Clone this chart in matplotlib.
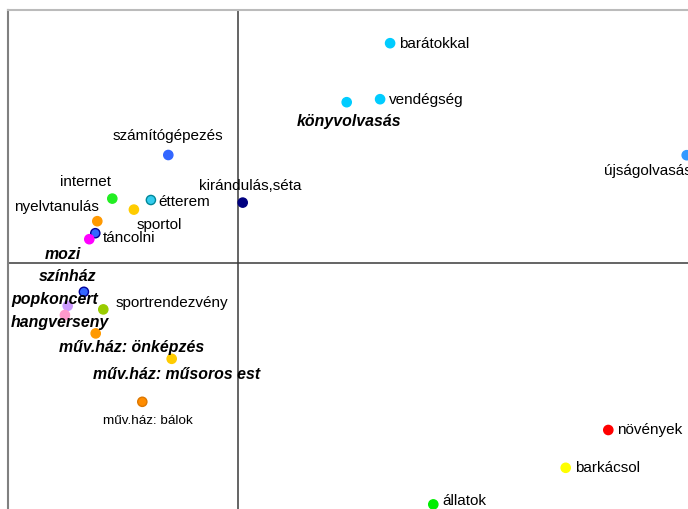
import matplotlib.pyplot as plt

plt.rcParams['font.family'] = ['Liberation Sans', 'DejaVu Sans']

# map coordinates of the activities
labels = ["számítógépezés", "internet", "étterem", "sportol", "nyelvtanulás",
          "táncolni", "mozi", "kirándulás,séta", "barátokkal", "vendégség",
          "könyvolvasás", "újságolvasás", "színház", "popkoncert",
          "sportrendezvény", "hangverseny", "műv.ház: önképzés",
          "műv.ház: műsoros est", "műv.ház: bálok", "növények", "barkácsol",
          "állatok"]
x_vals = [-0.347, -0.627, -0.434, -0.519, -0.702, -0.712, -0.742, 0.025,
          0.762, 0.712, 0.545, 2.245, -0.769, -0.850, -0.672, -0.864,
          -0.710, -0.330, -0.477, 1.853, 1.640, 0.978]
y_vals = [0.540, 0.322, 0.315, 0.267, 0.209, 0.149, 0.119, 0.302,
          1.099, 0.819, 0.804, 0.539, -0.144, -0.214, -0.232, -0.260,
          -0.352, -0.479, -0.694, -0.835, -1.024, -1.207]
emphasised = ["mozi", "könyvolvasás", "színház", "popkoncert", "hangverseny",
              "műv.ház: önképzés", "műv.ház: műsoros est"]

colors = ["#3366ff", "#22ee22", "#33ccee", "#ffcc00", "#ff9900",
          "#3366ff", "#ff00ff", "#000080", "#00ccff", "#00ccff",
          "#00ccff", "#3399ff", "#3366ff", "#cc99ff", "#99cc00",
          "#ff99cc", "#ff9900", "#ffcc00", "#ff8c00", "#ff0000",
          "#ffff00", "#00ee00"]
edges = ["#3366ff", "#22ee22", "#008899", "#ffcc00", "#ff9900",
         "#000099", "#ff00ff", "#000080", "#00ccff", "#00ccff",
         "#00ccff", "#3399ff", "#000099", "#cc99ff", "#99cc00",
         "#ff99cc", "#ff9900", "#ffcc00", "#dd7700", "#ff0000",
         "#ffff00", "#00ee00"]

# label placement: (dx px, dy px, ha)
offsets = [(0, 19, "center"), (-27, 17, "center"), (7, -2, "left"),
           (3, -15, "left"), (2, 14, "right"), (8, -5, "left"),
           (-8, -15, "right"), (8, 17, "center"), (9, -1, "left"),
           (9, -1, "left"), (2, -19, "center"), (-83, -16, "left"),
           (-16, 15, "center"), (-13, 6, "center"), (12, 6, "left"),
           (-5, -7, "center"), (36, -14, "center"), (5, -16, "center"),
           (6, -19, "center"), (9, 0, "left"), (9, 0, "left"),
           (9, 3, "left")]

fig = plt.figure(figsize=(6.88, 5.09), dpi=100)
ax = fig.add_axes([8 / 688, -11 / 509, 712 / 688, 510 / 509])
ax.set_xlim(-1.1485, 2.4115)
ax.set_ylim(-1.285, 1.265)

ax.axhline(0, color="#3a3a3a", lw=1.1, zorder=1)
ax.axvline(0, color="#3a3a3a", lw=1.1, zorder=1)

ax.scatter(x_vals, y_vals, s=44, c=colors, edgecolors=edges, linewidths=1,
           zorder=3)

for lab, x, y, (dx, dy, ha) in zip(labels, x_vals, y_vals, offsets):
    if lab in emphasised:
        kw = dict(fontsize=11.4, fontweight="bold", fontstyle="italic")
    elif lab == "műv.ház: bálok":
        kw = dict(fontsize=9.7)
    else:
        kw = dict(fontsize=11)
    ax.annotate(lab, (x, y), xytext=(dx, dy), textcoords="offset pixels",
                ha=ha, va="center", color="black", zorder=4, **kw)

ax.set_xticks([])
ax.set_yticks([])
ax.spines["left"].set_color("#808080")
ax.spines["left"].set_linewidth(1.5)
ax.spines["top"].set_color("#bbbbbb")
ax.spines["top"].set_linewidth(1.5)
ax.spines["right"].set_visible(False)
ax.spines["bottom"].set_visible(False)

fig.savefig("out.png", dpi=100)
